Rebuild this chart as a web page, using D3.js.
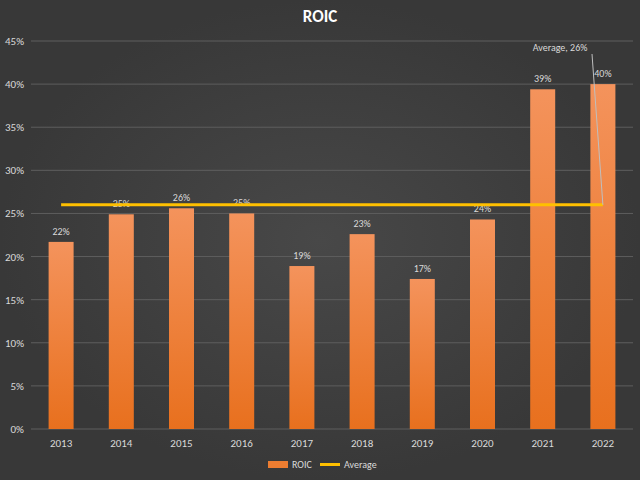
<!DOCTYPE html><html><head><script src="https://cdn.jsdelivr.net/npm/d3@7"></script>
<style>body{margin:0;background:#3f3f3f}</style></head><body><script>
const years=["2013","2014","2015","2016","2017","2018","2019","2020","2021","2022"];
const roic=[21.7,24.9,25.6,25.0,18.9,22.6,17.4,24.3,39.4,40.0];
const labels=["22%","25%","26%","25%","19%","23%","17%","24%","39%","40%"];
const average=26;
const yTicks=[0,5,10,15,20,25,30,35,40,45];
const W=640,H=480;
const svg=d3.select("body").append("svg").attr("width",W).attr("height",H).style("font-family","Calibri, Carlito, 'Liberation Sans', sans-serif");
const defs=svg.append("defs");
const bg=defs.append("radialGradient").attr("id","bg");
bg.append("stop").attr("offset","0").attr("stop-color","#484848");
bg.append("stop").attr("offset","1").attr("stop-color","#383838");
const bar=defs.append("linearGradient").attr("id","bar").attr("x1",0).attr("x2",0).attr("y1",0).attr("y2",1);
bar.append("stop").attr("offset","0").attr("stop-color","#f4935c");
bar.append("stop").attr("offset","1").attr("stop-color","#e8701e");
svg.append("rect").attr("width",W).attr("height",H).attr("fill","url(#bg)");
const x=d3.scaleBand().domain(years).range([31,633]);
const y=d3.scaleLinear().domain([0,45]).range([429,41]);
svg.append("text").attr("x",W/2).attr("y",22).attr("text-anchor","middle").attr("fill","#fff").attr("font-size",17).attr("font-weight","bold").text("ROIC");
const g=svg.append("g");
g.selectAll("line.g").data(yTicks).join("line").attr("x1",31).attr("x2",633).attr("y1",d=>y(d)).attr("y2",d=>y(d)).attr("stroke","#5e5e5e").attr("stroke-width",1);
g.selectAll("text.y").data(yTicks).join("text").attr("x",24).attr("y",d=>y(d)+4).attr("text-anchor","end").attr("fill","#d9d9d9").attr("font-size",11).text(d=>d+"%");
g.selectAll("rect.b").data(years).join("rect").attr("x",d=>x(d)+x.bandwidth()/2-12.5).attr("width",25).attr("y",(d,i)=>y(roic[i])).attr("height",(d,i)=>y(0)-y(roic[i])).attr("fill","url(#bar)");
g.selectAll("text.l").data(years).join("text").attr("x",d=>x(d)+x.bandwidth()/2).attr("y",(d,i)=>y(roic[i])-7).attr("text-anchor","middle").attr("fill","#d9d9d9").attr("font-size",10).text((d,i)=>labels[i]);
g.selectAll("text.x").data(years).join("text").attr("x",d=>x(d)+x.bandwidth()/2).attr("y",447).attr("text-anchor","middle").attr("fill","#d9d9d9").attr("font-size",11).text(d=>d);
const cx=d=>x(d)+x.bandwidth()/2;
svg.append("line").attr("x1",cx(years[0])).attr("x2",cx(years[9])).attr("y1",y(average)).attr("y2",y(average)).attr("stroke","#ffc000").attr("stroke-width",3);
svg.append("line").attr("x1",592).attr("y1",54).attr("x2",cx(years[9])).attr("y2",y(average)).attr("stroke","#bfbfbf").attr("stroke-width",1);
svg.append("text").attr("x",560).attr("y",51).attr("text-anchor","middle").attr("fill","#d9d9d9").attr("font-size",10).text("Average, "+average+"%");
const lg=svg.append("g");
lg.append("rect").attr("x",268).attr("y",461).attr("width",20).attr("height",7).attr("fill","#ed7d31");
lg.append("text").attr("x",292).attr("y",468).attr("fill","#d9d9d9").attr("font-size",10).text("ROIC");
lg.append("line").attr("x1",320).attr("x2",340).attr("y1",464.5).attr("y2",464.5).attr("stroke","#ffc000").attr("stroke-width",3);
lg.append("text").attr("x",344).attr("y",468).attr("fill","#d9d9d9").attr("font-size",10).text("Average");
</script></body></html>
